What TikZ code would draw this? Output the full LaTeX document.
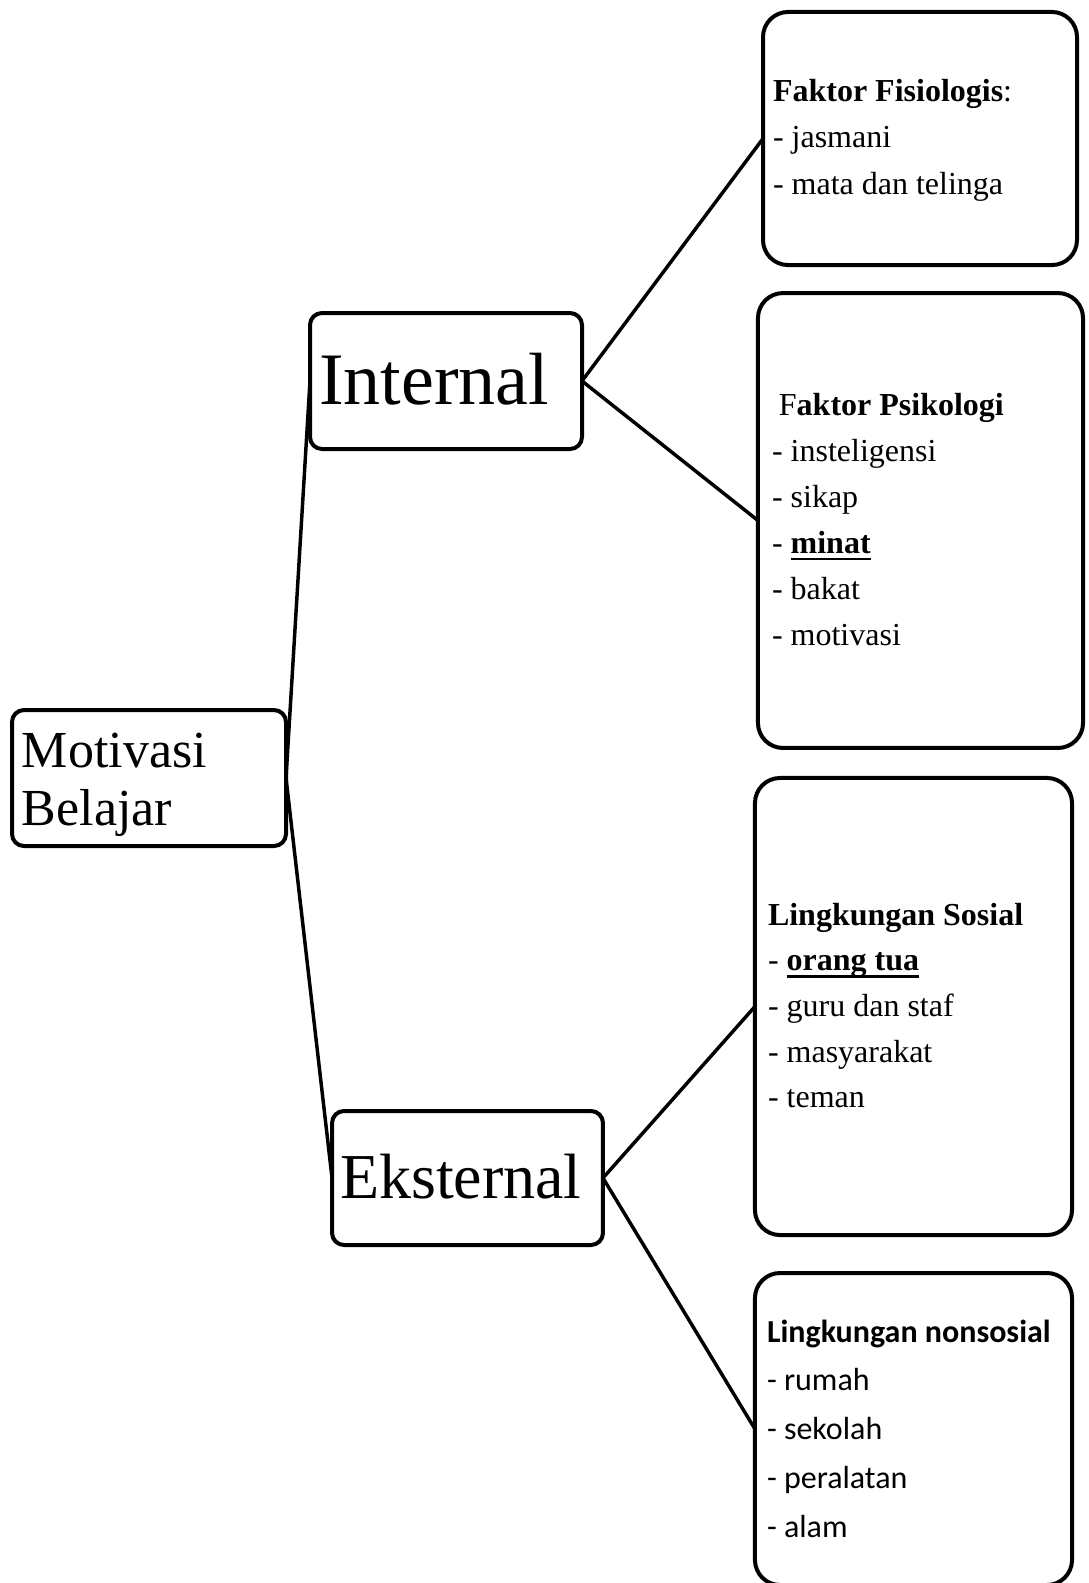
\documentclass[tikz,border=0pt]{standalone}
\usepackage{fontspec}
\setmainfont{Liberation Serif}
\newfontfamily\calib{Carlito}
\newlength\ulwd
\newcommand\thul[1]{\settowidth\ulwd{#1}\rlap{\rule[-2.6pt]{\ulwd}{0.9pt}}#1}
\begin{document}
\begin{tikzpicture}[x=0.375pt,y=-0.375pt,
  box/.style={draw=black, line width=1.5pt, rounded corners=9.4pt, inner sep=0pt, outer sep=0pt, fill=white},
  smallbox/.style={box, rounded corners=4.5pt},
  conn/.style={line width=1.3pt, line cap=round},
  txt/.style={anchor=base west, inner sep=0pt, outer sep=0pt}]
\useasboundingbox (0,0) rectangle (1088,1583);
\clip (0,0) rectangle (1088,1583);
% boxes
\node[smallbox, minimum width=102.75pt, minimum height=51pt] (mot) at (149,778) {};
\node[smallbox, minimum width=102pt, minimum height=51pt] (int) at (446,381) {};
\node[smallbox, minimum width=101.6pt, minimum height=50.25pt] (eks) at (467.5,1178) {};
\node[box, minimum width=117.75pt, minimum height=94.9pt] (fis) at (920,138.5) {};
\node[box, minimum width=121.9pt, minimum height=170.6pt] (psi) at (920.5,520.5) {};
\node[box, minimum width=118.9pt, minimum height=171.4pt] (sos) at (913.5,1006.5) {};
\node[box, minimum width=118.9pt, minimum height=117pt] (non) at (913.5,1429) {};
% connectors
\draw[conn] (mot.east) -- (int.west);
\draw[conn] (mot.east) -- (eks.west);
\draw[conn] (int.east) -- (fis.west);
\draw[conn] (int.east) -- (psi.west);
\draw[conn] (eks.east) -- (sos.west);
\draw[conn] (eks.east) -- (non.west);
% texts
\node[txt, font=\fontsize{19.5}{22.1}\selectfont] (motT) at (22,767)
  {\begin{tabular}[t]{@{}l@{}}Motivasi\\Belajar\end{tabular}};
\node[txt, font=\fontsize{27.75}{30}\selectfont] (intT) at (319,404) {Internal};
\node[txt, font=\fontsize{24}{27}\selectfont] (eksT) at (340,1198) {Eksternal};
\node[txt, font=\fontsize{12}{17.44}\selectfont] (fisT) at (773,101)
  {\begin{tabular}[t]{@{}l@{}}\textbf{Faktor Fisiologis}:\\- jasmani\\- mata dan telinga\end{tabular}};
\node[txt, font=\fontsize{12}{17.25}\selectfont] (psiT) at (772,415)
  {\begin{tabular}[t]{@{}l@{}}\hspace*{2.6pt}F\textbf{aktor Psikologi}\\- insteligensi\\- sikap\\- \thul{\textbf{minat}}\\- bakat\\- motivasi\end{tabular}};
\node[txt, font=\fontsize{12}{17.15}\selectfont] (sosT) at (768,925)
  {\begin{tabular}[t]{@{}l@{}}\textbf{Lingkungan Sosial}\\- \thul{\textbf{orang tua}}\\- guru dan staf\\- masyarakat\\- teman\end{tabular}};
\node[txt, font=\calib\fontsize{12}{18.3}\selectfont] (nonT) at (767,1342)
  {\begin{tabular}[t]{@{}l@{}}\textbf{Lingkungan nonsosial}\\- rumah\\- sekolah\\- peralatan\\- alam\end{tabular}};
\end{tikzpicture}
\end{document}
